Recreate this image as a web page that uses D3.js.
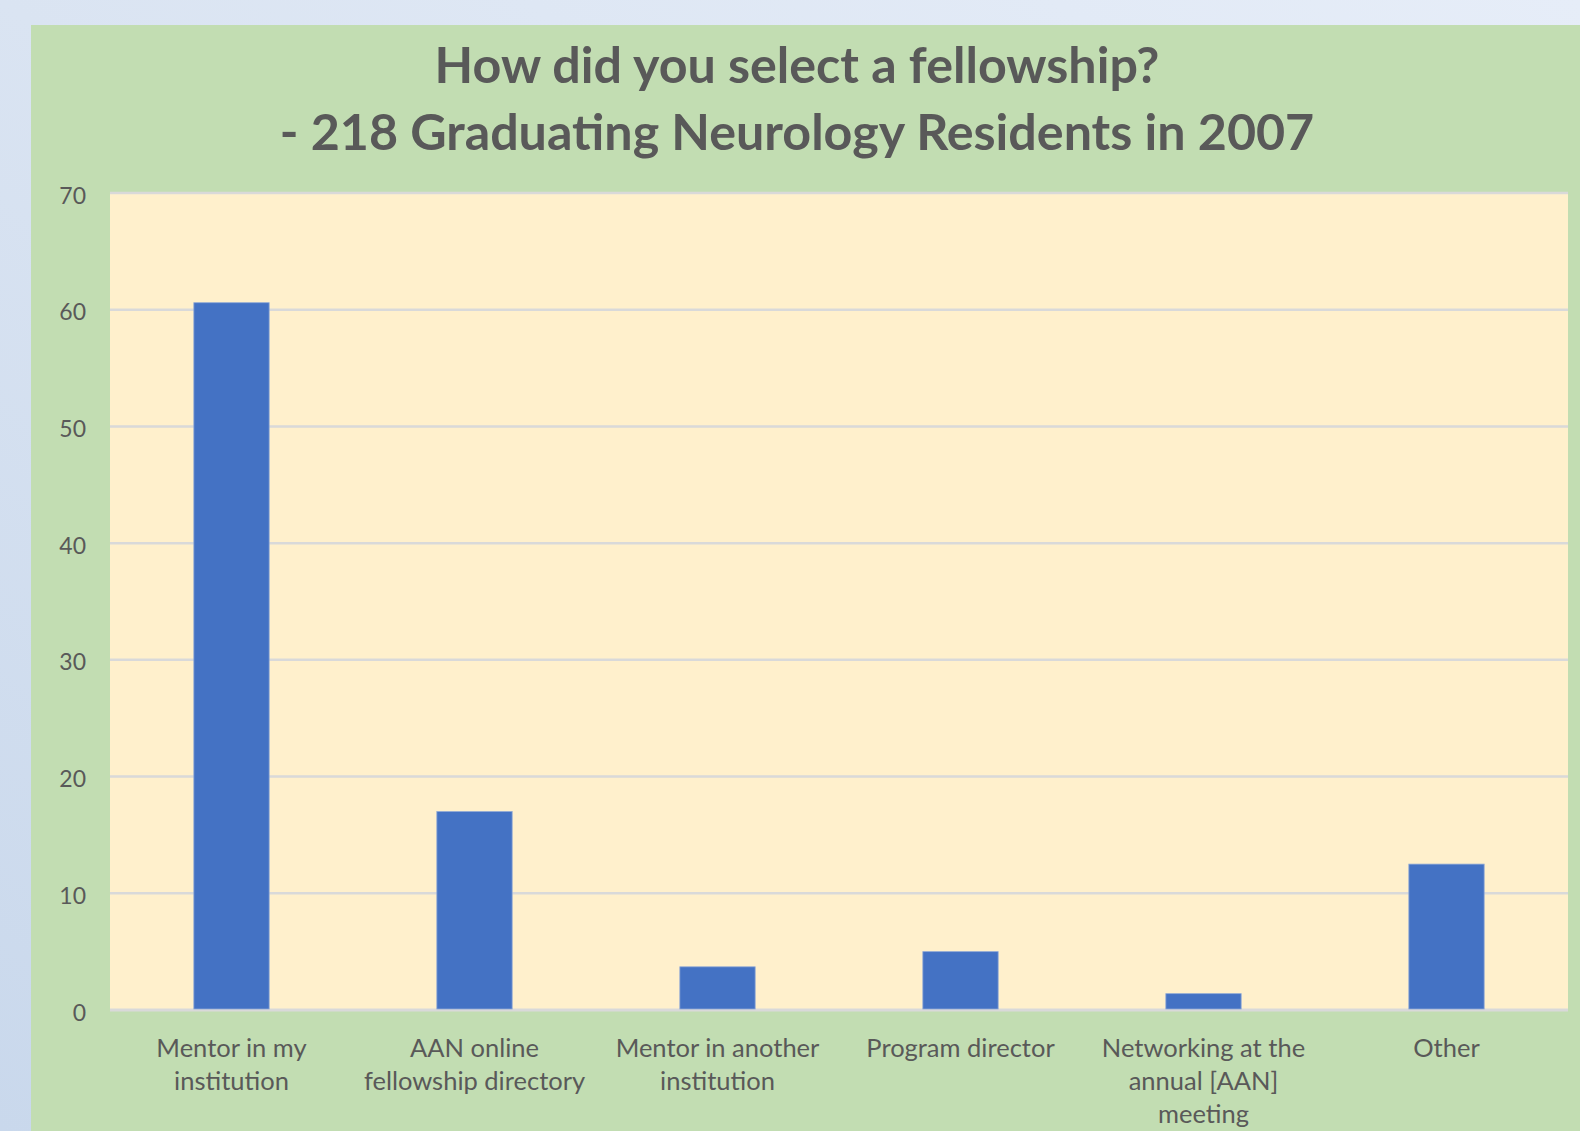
<!DOCTYPE html>
<html>
<head>
<meta charset="utf-8">
<script src="https://cdn.jsdelivr.net/npm/d3@7"></script>
<style>
  html, body { margin: 0; padding: 0; overflow: hidden; }
  body { width: 1580px; height: 1131px; }
  svg { display: block; }
</style>
</head>
<body>
<svg id="chart" width="1580" height="1131"></svg>
<script>
// Survey answers: share of graduating residents (%) per selection route
const categories = [
  ["Mentor in my", "institution"],
  ["AAN online", "fellowship directory"],
  ["Mentor in another", "institution"],
  ["Program director"],
  ["Networking at the", "annual [AAN]", "meeting"],
  ["Other"]
];
const values = [60.6, 17.0, 3.7, 5.0, 1.4, 12.5];
const yTicks = [0, 10, 20, 30, 40, 50, 60, 70];
const titleLines = ["How did you select a fellowship?", "- 218 Graduating Neurology Residents in 2007"];

const W = 1580, H = 1131;
const svg = d3.select("#chart");
const font = "Lato, 'Open Sans', sans-serif";
const textColor = "#595959";

// slide-style backdrop
const defs = svg.append("defs");
const bg = defs.append("linearGradient").attr("id", "bg")
  .attr("x1", "0").attr("y1", "1").attr("x2", "1").attr("y2", "0");
bg.append("stop").attr("offset", "0").attr("stop-color", "#c9d8ec");
bg.append("stop").attr("offset", "0.5").attr("stop-color", "#dae4f2");
bg.append("stop").attr("offset", "1").attr("stop-color", "#e6edf8");
svg.append("rect").attr("width", W).attr("height", H).attr("fill", "url(#bg)");

// chart area
svg.append("rect").attr("x", 31).attr("y", 25).attr("width", W - 31).attr("height", H - 25)
  .attr("fill", "#c2ddb2");

const plot = { left: 110, top: 193, right: 1568, bottom: 1010 };

// plot background
svg.append("rect")
  .attr("x", plot.left).attr("y", plot.top)
  .attr("width", plot.right - plot.left).attr("height", plot.bottom - plot.top)
  .attr("fill", "#fff0cc");

const y = d3.scaleLinear().domain([0, 70]).range([plot.bottom, plot.top]);
const x = d3.scaleBand()
  .domain(d3.range(categories.length))
  .range([plot.left, plot.right])
  .paddingInner(0.69)
  .paddingOuter(0.345);

// gridlines
svg.append("g")
  .selectAll("line")
  .data(yTicks)
  .join("line")
  .attr("x1", plot.left).attr("x2", plot.right)
  .attr("y1", d => y(d)).attr("y2", d => y(d))
  .attr("stroke", "#d9d9d9")
  .attr("stroke-width", d => d === 0 ? 3 : 2.5);

// bars
svg.append("g")
  .selectAll("rect")
  .data(values)
  .join("rect")
  .attr("x", (d, i) => x(i))
  .attr("width", x.bandwidth())
  .attr("y", d => y(d))
  .attr("height", d => y(0) - y(d) - 1)
  .attr("fill", "#4472c4")
  .attr("stroke", "#8fa9d6")
  .attr("stroke-width", 0.8);

// y axis labels
const yAxis = d3.axisLeft(y).tickValues(yTicks).tickSize(0).tickPadding(0);
const gy = svg.append("g").attr("transform", "translate(86,2)").call(yAxis);
gy.select(".domain").remove();
gy.selectAll("text")
  .attr("font-family", font).attr("font-size", 23).attr("fill", textColor)
  .attr("dy", "0.35em");

// category labels
const gx = svg.append("g");
categories.forEach((lines, i) => {
  const cx = x(i) + x.bandwidth() / 2;
  const t = gx.append("text")
    .attr("text-anchor", "middle")
    .attr("font-family", font).attr("font-size", 25.5).attr("fill", textColor);
  lines.forEach((ln, j) => {
    t.append("tspan").attr("x", cx).attr("y", 1057 + j * 33).text(ln);
  });
});

// title
const titleY = [83, 150];
const title = svg.append("g");
titleLines.forEach((ln, j) => {
  title.append("text")
    .attr("x", 797).attr("y", titleY[j])
    .attr("text-anchor", "middle")
    .attr("font-family", font).attr("font-weight", 700)
    .attr("font-size", 50.2).attr("fill", textColor)
    .text(ln);
});
</script>
</body>
</html>
